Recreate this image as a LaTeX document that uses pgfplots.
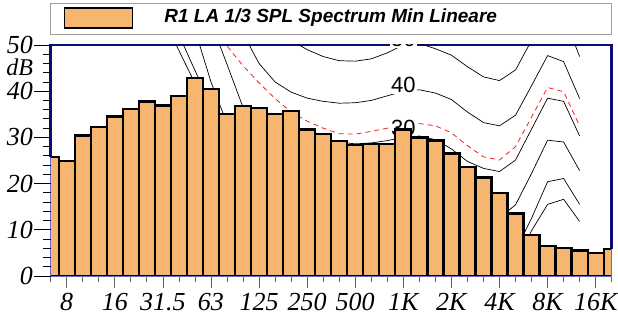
\documentclass[border=0pt]{standalone}
\usepackage{pgfplots}
\pgfplotsset{compat=1.18}
\usepackage{fontspec}
\setmainfont{Liberation Serif}
\newfontfamily\arial{Liberation Sans}
\definecolor{navy}{RGB}{12,12,125}
\definecolor{axblue}{RGB}{105,105,215}
\definecolor{barfill}{RGB}{246,182,112}
\definecolor{curvered}{RGB}{240,30,30}
\begin{document}
\begin{tikzpicture}
\begin{axis}[name=ax,
  width=561pt, height=231pt, scale only axis,
  xmin=0, xmax=35, ymin=0, ymax=50,
  clip mode=individual,
  axis line style={draw=none},
  xtick pos=left, ytick pos=left,
  tick align=outside,
  major tick length=12pt, minor tick length=6pt,
  xtick={1,4,7,10,13,16,19,22,25,28,31,34},
  xticklabels={8,16,31.5,63,125,250,500,1K,2K,4K,8K,16K},
  minor xtick={0,...,35},
  xtick style={gray!80!black, line width=0.8pt},
  ytick={0,10,20,30,40,50},
  yticklabels={0,10,20,30,40,50},
  ytick style={draw=none},
  ticklabel style={font=\fontsize{26}{27}\selectfont\itshape, inner sep=0pt},
  xticklabel style={yshift=-5pt},
  yticklabel style={xshift=-5.5pt},
]
% frame (under bars)
\draw[navy, line width=2.5pt] (axis cs:0,25.7) -- (rel axis cs:0,1) -- (rel axis cs:1,1) -- (axis cs:35,5.9);
\node[anchor=east, inner sep=0pt, font=\fontsize{24}{24}\selectfont\itshape] at ([xshift=-17.5pt]axis cs:0,45.1) {dB};

% contours
\addplot[black, line width=0.7pt, no markers] coordinates {
(5,72) (6,64) (7,56) (8,48.8) (9,41.7) (10,35.5) (11,30) (12,25.5) (13,21.5) (14,18) (15,15) (16,12.5) (17,10) (18,8) (19,6.5) (20,5.5) (21,5) (22,4.5) (23,4) (24,3) (25,1) (26,-1) (27,-2.5) (28,-2) (29,2.5) (30,9.8) (31,15.5) (32,16.6) (33,11.8)};
\addplot[black, line width=0.7pt, no markers] coordinates {
(5,78) (6,68.5) (7,60) (8,52.2) (9,44.5) (10,37) (11,31.5) (12,27) (13,23) (14,20) (15,17.5) (16,15.5) (17,14) (18,12.5) (19,11.5) (20,10.8) (21,10.3) (22,10) (23,10) (24,9) (25,7) (26,5) (27,3.5) (28,3) (29,5.5) (30,12.5) (31,20.4) (32,21.1) (33,15.5)};
\addplot[black, line width=0.7pt, no markers] coordinates {
(6,80) (7,72) (8,64) (9,53.3) (10,42) (11,33) (12,29) (13,26.5) (14,25) (15,23.5) (16,22.5) (17,21.5) (18,20.5) (19,20) (20,20) (21,20) (22,20) (23,20.3) (24,19.5) (25,17.5) (26,15) (27,13.2) (28,12.6) (29,15.4) (30,22.2) (31,29.4) (32,29.0) (33,22.8)};
\addplot[black, line width=0.7pt, no markers] coordinates {
(7,80) (8,72) (9,64) (10,55) (11,45.8) (12,36.5) (13,34) (14,32.5) (15,31.5) (16,30.5) (17,29.5) (18,29) (19,28.6) (20,28.8) (21,29.3) (22,30) (23,30.3) (24,29.5) (25,27.5) (26,24.8) (27,23.3) (28,22.6) (29,25.1) (30,31.8) (31,38.5) (32,37.8) (33,30.3)};
\addplot[curvered, line width=0.8pt, dash pattern=on 5pt off 4pt, no markers] coordinates {
(8,66) (9,61) (10,54) (11,49.8) (12,45.5) (13,41.8) (14,38.4) (15,35.5) (16,33.5) (17,32) (18,30.8) (19,30.7) (20,31.3) (21,32) (22,32.6) (23,33) (24,32.5) (25,31) (26,28.2) (27,25.8) (28,25.1) (29,28.0) (30,34.4) (31,40.8) (32,39.9) (33,32.5)};
\addplot[black, line width=0.7pt, no markers] coordinates {
(9,76) (10,68) (11,60) (12,52.5) (13,46) (14,42) (15,39.8) (16,38.5) (17,37.8) (18,37.4) (19,37.5) (20,38) (21,39) (22,40) (23,40.3) (24,39.6) (25,38.2) (26,35.5) (27,33.2) (28,32.5) (29,34.8) (30,41.2) (31,47.7) (32,46.4) (33,38.4)};
\addplot[black, line width=0.7pt, no markers] coordinates {
(10,80) (11,73) (12,66) (13,60) (14,55) (15,51) (16,49) (17,47.5) (18,46.6) (19,46.5) (20,47) (21,48.3) (22,50) (23,50.3) (24,49.2) (25,47.8) (26,45.3) (27,43.1) (28,42.3) (29,44.6) (30,51) (31,57.7) (32,56.4) (33,47.5)};
\node[fill=white, inner sep=1.5pt, font=\arial\fontsize{22}{22}\selectfont] at (axis cs:22,41.4) {40};
\node[fill=white, inner sep=1.5pt, font=\arial\fontsize{22}{22}\selectfont] at (axis cs:22,32.0) {30};
\coordinate (l50) at (axis cs:22,51.4);

% bars
\addplot[ybar, bar width=16.03pt, fill=barfill, draw=black, line width=2.3pt] coordinates {
(0,25.7) (1,24.9) (2,30.4) (3,32.3) (4,34.5) (5,36.1) (6,37.8) (7,36.9) (8,39.0) (9,42.9)
(10,40.4) (11,35.1) (12,36.8) (13,36.4) (14,35.1) (15,35.7) (16,31.7) (17,30.7) (18,29.2) (19,28.4)
(20,28.6) (21,28.5) (22,31.7) (23,30.0) (24,29.3) (25,26.5) (26,23.6) (27,21.3) (28,18.0) (29,13.5)
(30,8.9) (31,6.5) (32,6.1) (33,5.5) (34,5.0) (35,5.9)};
\draw[axblue, line width=0.9pt] (axis cs:0,25.7) -- (rel axis cs:0,0) -- (rel axis cs:1,0) -- (axis cs:35,5.9);
\end{axis}
% y ticks (outside the axis)
\foreach \v in {0,10,20,30,40,50}{\draw[black, line width=0.9pt] ([yshift=\v*4.62pt]ax.south west) -- ++(-17pt,0pt);}
\foreach \v in {2,4,6,8,12,14,16,18,22,24,26,28,32,34,36,38,42,44,46,48}{\draw[black, line width=0.9pt] ([yshift=\v*4.62pt]ax.south west) -- ++(-8pt,0pt);}
\begin{scope}
\clip (ax.south west) rectangle (ax.north east);
\node[fill=white, inner sep=1.5pt, font=\arial\fontsize{22}{22}\selectfont] at (l50) {50};
\end{scope}
% legend
\draw[gray!75, line width=0.9pt] ([yshift=11pt]ax.north west) rectangle ([yshift=42pt]ax.north east);
\draw[fill=barfill, line width=1.5pt] ([xshift=14pt,yshift=17pt]ax.north west) rectangle ([xshift=82pt,yshift=37pt]ax.north west);
\node[font=\arial\bfseries\itshape\fontsize{19}{19}\selectfont] at ([xshift=280pt,yshift=27pt]ax.north west) {R1 LA 1/3 SPL Spectrum Min Lineare};
\pgfresetboundingbox
\path[use as bounding box] ([xshift=-50.7pt,yshift=-44pt]ax.south west) rectangle ([xshift=6.3pt,yshift=45pt]ax.north east);
\end{tikzpicture}
\end{document}
